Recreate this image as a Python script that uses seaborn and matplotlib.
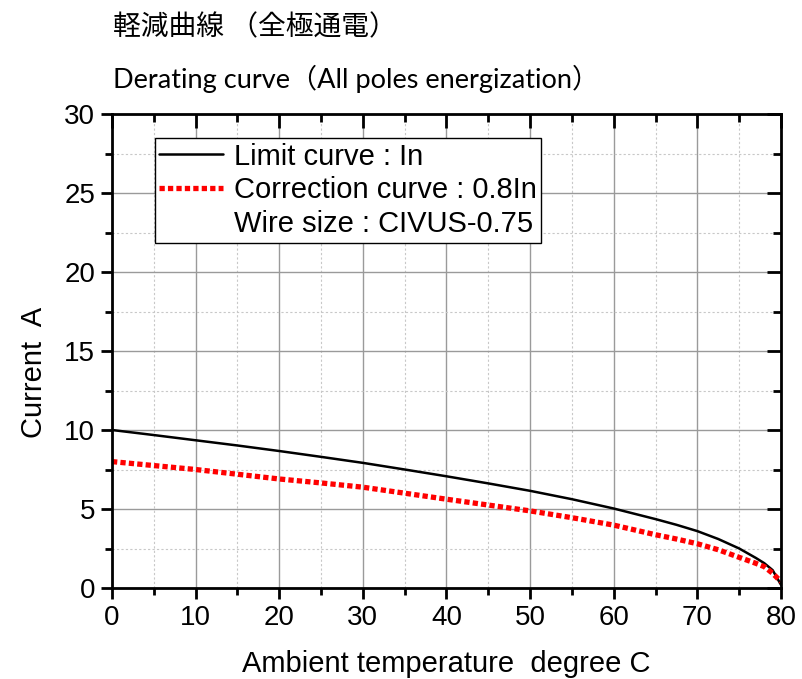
import seaborn as sns
import matplotlib.pyplot as plt
import matplotlib.lines as mlines
from matplotlib.ticker import MultipleLocator
import pandas as pd

# values
temperature = [0, 5, 10, 15, 20, 25, 30, 35, 40, 45, 50, 55, 60, 65, 67.5, 70, 72.5, 75, 77, 78, 79, 80]
limit_current = [10.0, 9.68, 9.35, 9.02, 8.67, 8.3, 7.92, 7.5, 7.07, 6.62, 6.15, 5.62, 5.03,
                 4.36, 4.0, 3.6, 3.1, 2.5, 1.9, 1.57, 1.13, 0.2]
correction_current = [8.0, 7.75, 7.5, 7.2, 6.9, 6.65, 6.38, 6.0, 5.62, 5.25, 4.88, 4.45, 3.98,
                      3.37, 3.1, 2.8, 2.42, 1.94, 1.56, 1.35, 0.93, 0.4]

title_jp = "軽減曲線 （全極通電）"
title_en = "Derating curve（All poles energization）"
legend_labels = ["Limit curve : In", "Correction curve : 0.8In", "Wire size : CIVUS-0.75"]

df = pd.DataFrame({
    "temp": temperature * 2,
    "current": limit_current + correction_current,
    "curve": ["limit"] * len(temperature) + ["correction"] * len(temperature),
})

sns.set_style("white")
plt.rcParams["font.family"] = ["Liberation Sans", "DejaVu Sans"]
plt.rcParams["text.color"] = "black"
plt.rcParams["axes.labelcolor"] = "black"
plt.rcParams["xtick.color"] = "black"
plt.rcParams["ytick.color"] = "black"

fig = plt.figure(figsize=(8.03, 6.79), dpi=100)
ax = fig.add_axes([112 / 803, 91 / 679, 669 / 803, 474 / 679])

red_dash = (0, (1.0, 0.6))
sns.lineplot(data=df[df.curve == "limit"], x="temp", y="current", color="black",
             linewidth=1.8, ax=ax, legend=False)
sns.lineplot(data=df[df.curve == "correction"], x="temp", y="current", color="#ff0000",
             linewidth=3.8, ax=ax, legend=False)
ax.lines[1].set_linestyle(red_dash)
ax.lines[1].set_dash_capstyle("butt")

ax.set_xlim(0, 80)
ax.set_ylim(0, 30)
ax.xaxis.set_major_locator(MultipleLocator(10))
ax.xaxis.set_minor_locator(MultipleLocator(5))
ax.yaxis.set_major_locator(MultipleLocator(5))
ax.yaxis.set_minor_locator(MultipleLocator(2.5))
ax.grid(which="major", color="#9a9a9a", linewidth=1.0, linestyle="-")
ax.grid(which="minor", color="#c8c8c8", linewidth=0.8, linestyle=(0, (2, 2)))
ax.set_axisbelow(True)

for s in ax.spines.values():
    s.set_color("black")
    s.set_linewidth(2.0)

# bottom / left ticks point outward
ax.tick_params(which="both", direction="out", bottom=True, left=True, top=False, right=False,
               color="black", width=2.0, labelsize=20, pad=4)
ax.tick_params(which="major", length=8)
ax.tick_params(which="minor", length=5)

# top / right ticks point inward, no labels
ax_top = ax.twiny()
ax_top.set_xlim(0, 80)
ax_top.xaxis.set_major_locator(MultipleLocator(10))
ax_top.xaxis.set_minor_locator(MultipleLocator(5))
ax_top.tick_params(which="both", direction="in", top=True, bottom=False,
                   labeltop=False, labelbottom=False, color="black", width=2.0)
ax_right = ax.twinx()
ax_right.set_ylim(0, 30)
ax_right.yaxis.set_major_locator(MultipleLocator(5))
ax_right.yaxis.set_minor_locator(MultipleLocator(2.5))
ax_right.tick_params(which="both", direction="in", right=True, left=False,
                     labelright=False, labelleft=False, color="black", width=2.0)
for tw in (ax_top, ax_right):
    tw.tick_params(which="major", length=10)
    tw.tick_params(which="minor", length=6)
    tw.grid(False)
    for s in tw.spines.values():
        s.set_visible(False)

ax.set_xlabel("Ambient temperature  degree C", fontsize=21, labelpad=14)
ax.set_ylabel("Current  A", fontsize=21)
ax.yaxis.set_label_coords(-0.095, 0.454)

h1 = mlines.Line2D([], [], color="black", linewidth=1.8)
h2 = mlines.Line2D([], [], color="#ff0000", linewidth=3.8, linestyle=red_dash)
h3 = mlines.Line2D([], [], color="none")
leg = ax_right.legend([h1, h2, h3], legend_labels, loc="upper left", bbox_to_anchor=(0.064, 0.949),
                      fontsize=21, frameon=True, fancybox=False, framealpha=1,
                      handlelength=2.2, handletextpad=0.35, labelspacing=0.2, borderpad=0.15,
                      borderaxespad=0)
leg.get_frame().set_edgecolor("black")
leg.get_frame().set_linewidth(1.0)

fig.text(113 / 803, 0.96, title_jp, fontsize=20, va="center",
         family=["Noto Sans CJK JP", "DejaVu Sans"])
fig.text(113 / 803, 0.884, title_en, fontsize=19.5, va="center",
         family=["Lato", "Noto Sans CJK JP", "DejaVu Sans"])

fig.savefig("out.png", dpi=100)
